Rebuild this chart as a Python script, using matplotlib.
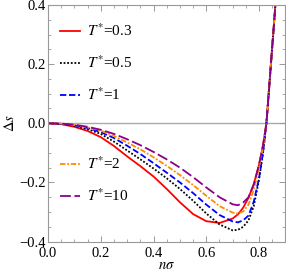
import matplotlib
matplotlib.use("Agg")
import matplotlib.pyplot as plt
from matplotlib.ticker import MultipleLocator, FormatStrFormatter, FuncFormatter

# n*sigma grid shared by all curves
n_sigma = [0, 0.05, 0.1, 0.15, 0.2, 0.25, 0.3, 0.35, 0.4, 0.45, 0.5, 0.55, 0.6, 0.65, 0.7,
           0.72, 0.74, 0.76, 0.78, 0.8, 0.815, 0.828, 0.845, 0.862]

ds_03 = [0, -0.003, -0.012, -0.026, -0.047, -0.077, -0.112, -0.145, -0.18, -0.222, -0.267, -0.307,
         -0.331, -0.337, -0.322, -0.308, -0.285, -0.252, -0.205, -0.14, -0.075, 0.0, 0.2, 0.4]
ds_05 = [0, -0.002, -0.009, -0.02, -0.036, -0.062, -0.092, -0.122, -0.153, -0.186, -0.222, -0.262,
         -0.305, -0.342, -0.362, -0.36, -0.35, -0.328, -0.28, -0.19, -0.1, 0.0, 0.2, 0.4]
ds_1 = [0, -0.002, -0.007, -0.016, -0.03, -0.05, -0.076, -0.104, -0.135, -0.167, -0.2, -0.236,
        -0.275, -0.31, -0.332, -0.335, -0.328, -0.312, -0.265, -0.185, -0.1, 0.0, 0.2, 0.4]
ds_2 = [0, -0.001, -0.006, -0.014, -0.025, -0.043, -0.065, -0.088, -0.115, -0.144, -0.175, -0.209,
        -0.245, -0.28, -0.302, -0.305, -0.298, -0.275, -0.225, -0.15, -0.08, 0.0, 0.2, 0.4]
ds_10 = [0, -0.001, -0.005, -0.012, -0.022, -0.036, -0.054, -0.074, -0.097, -0.122, -0.15, -0.182,
         -0.217, -0.25, -0.274, -0.277, -0.268, -0.25, -0.208, -0.14, -0.075, 0.0, 0.2, 0.4]

temps = ['0.3', '0.5', '1', '2', '10']

plt.rcParams['font.family'] = ['Liberation Serif', 'DejaVu Serif']
plt.rcParams['mathtext.fontset'] = 'stix'

fig = plt.figure(figsize=(2.86, 2.73), dpi=100)
ax = fig.add_axes([0.168, 0.115, 0.83, 0.867])

ax.axhline(0, color='#aaaaaa', lw=1.0, zorder=1)

styles = [
    dict(color='#ff0000', ls='-'),
    dict(color='black', ls=(0, (1, 1))),
    dict(color='#0000ff', ls=(0, (3.5, 1.5))),
    dict(color='#ff8c00', ls=(0, (3, 1, 1, 1))),
    dict(color='#8b008b', ls=(0, (6, 2))),
]
handles = []
for ys, st, t in zip([ds_03, ds_05, ds_1, ds_2, ds_10], styles, temps):
    ln, = ax.plot(n_sigma, ys, lw=1.3, label=r'$T^{*}$=' + t, **st)
    handles.append(ln)

ax.set_xlim(0, 0.9)
ax.set_ylim(-0.4, 0.4)
ax.xaxis.set_major_locator(MultipleLocator(0.2))
ax.xaxis.set_minor_locator(MultipleLocator(0.05))
ax.yaxis.set_major_locator(MultipleLocator(0.2))
ax.yaxis.set_minor_locator(MultipleLocator(0.05))
ax.xaxis.set_major_formatter(FormatStrFormatter('%.1f'))
ax.yaxis.set_major_formatter(FuncFormatter(
    lambda v, p: ('\u2212' if v < -1e-9 else '') + '%.1f' % abs(v)))

for sp in ax.spines.values():
    sp.set_color('#999999')
    sp.set_linewidth(0.8)
ax.tick_params(which='both', direction='in', top=True, right=True, color='#999999',
               labelsize=10.5)
ax.tick_params(axis='y', pad=2)
ax.tick_params(axis='x', pad=4)
ax.tick_params(which='major', length=4, width=0.7)
ax.tick_params(which='minor', length=2.2, width=0.6)

ax.set_xlabel(r'$n\sigma$', fontsize=10.5, labelpad=-1)
ax.set_ylabel(r'$\Delta s$', fontsize=10.5, labelpad=1)

leg_kw = dict(frameon=False, fontsize=11, handlelength=1.3, handletextpad=0.5,
              labelspacing=1.0, borderaxespad=0, borderpad=0)
leg1 = ax.legend(handles=handles[:3], loc='upper left', bbox_to_anchor=(0.05, 0.925), **leg_kw)
ax.add_artist(leg1)
ax.legend(handles=handles[3:], loc='upper left', bbox_to_anchor=(0.05, 0.363), **leg_kw)

fig.savefig('out.png', dpi=100)
